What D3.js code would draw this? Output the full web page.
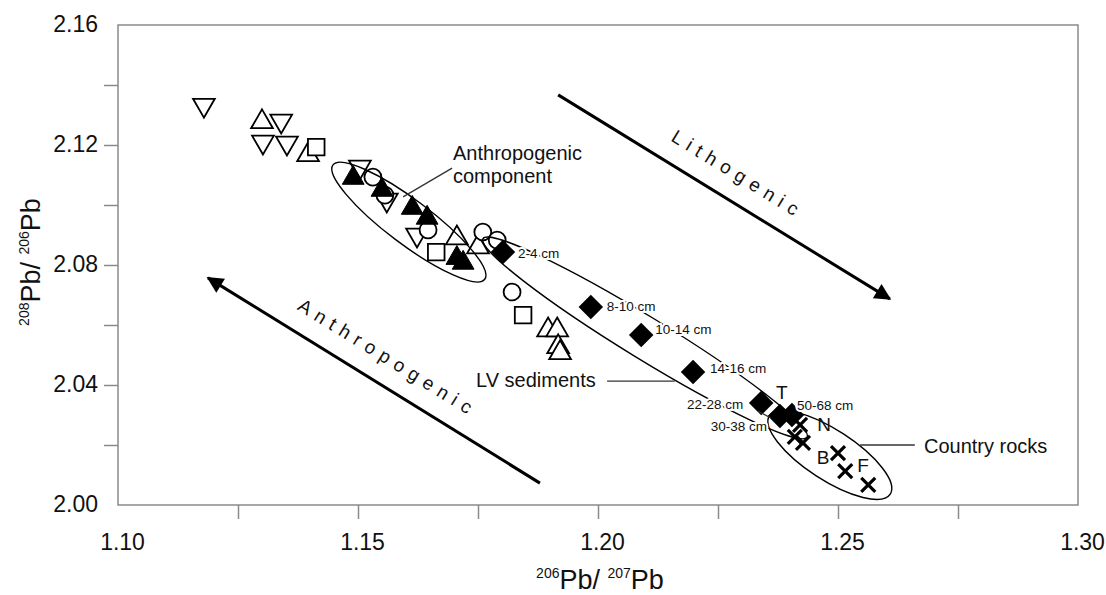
<!DOCTYPE html>
<html><head><meta charset="utf-8">
<script src="https://cdn.jsdelivr.net/npm/d3@7/dist/d3.min.js"></script>
<style>body{margin:0;background:#fff}svg{display:block}</style>
</head><body>
<svg id="c" width="1106" height="595"></svg>
<script>
// ---- axis tick values ----
const xLabelTicks = [1.10, 1.15, 1.20, 1.25, 1.30];
const xMarkTicks = [1.125, 1.15, 1.175, 1.20, 1.225, 1.25, 1.275];
const yLabelTicks = [2.00, 2.04, 2.08, 2.12, 2.16];
const yMarkTicks = [2.02, 2.04, 2.06, 2.08, 2.10, 2.12, 2.14];

// ---- data series [206Pb/207Pb, 208Pb/206Pb] ----
const openDownTriangles = [[1.1179,2.1333],[1.1340,2.1280],[1.1302,2.1210],[1.1352,2.1207],[1.1504,2.1127],[1.1560,2.1017],[1.1623,2.0900]];
const openUpTriangles = [[1.1300,2.1277],[1.1396,2.1167],[1.1706,2.0890],[1.1750,2.0860],[1.1896,2.0583],[1.1915,2.0583],[1.1917,2.0527],[1.1921,2.0507]];
const openSquares = [[1.1413,2.1193],[1.1663,2.0843],[1.1844,2.0633]];
const openCircles = [[1.1531,2.1093],[1.1556,2.1033],[1.1646,2.0917],[1.1760,2.0910],[1.1790,2.0883],[1.1821,2.0710]];
const filledTriangles = [[1.1490,2.1090],[1.1550,2.1050],[1.1613,2.0990],[1.1644,2.0957],[1.1706,2.0823],[1.1719,2.0807]];
const lvDepths = ["2-4 cm","8-10 cm","10-14 cm","14-16 cm","22-28 cm","30-38 cm","50-68 cm"];
const lvSediments = [[1.1802,2.0843],[1.1985,2.0660],[1.2090,2.0567],[1.2198,2.0443],[1.2340,2.0340],[1.2379,2.0297],[1.2404,2.0300]];
const countryRocks = [[1.2421,2.0267],[1.2410,2.0227],[1.2427,2.0207],[1.2500,2.0173],[1.2515,2.0113],[1.2563,2.0067]];
const rockLabels = ["T","N","B","F"];
const rockLabelPos = [[1.2383,2.0377],[1.2471,2.0270],[1.2469,2.0160],[1.2552,2.0133]];

// ---- annotation config ----
const depthLabelOffsets = [[15,6],[16,4],[14,-1],[17,1],[-18,6],[-13,15],[5,-5]]; // px
const depthLabelAnchor = ["start","start","start","start","end","end","start"];
const ellipses = [
  {c:[1.1606,2.0943], a:95, b:22, angle:37},
  {c:[1.2098,2.0557], a:190, b:21, angle:31.5},
  {c:[1.2483,2.0167], a:72, b:25, angle:33}
];
const arrows = [
  {from:[1.1917,2.1367], to:[1.2608,2.0687], label:"Lithogenic"},
  {from:[1.1879,2.0073], to:[1.11875,2.0757], label:"Anthropogenic"}
];

const FONT = "'Liberation Sans', Arial, Helvetica, sans-serif";
const svg = d3.select("#c");
const x = d3.scaleLinear().domain([1.10,1.30]).range([118,1078]);
const y = d3.scaleLinear().domain([2.00,2.16]).range([505,25]);

// frame
svg.append("rect").attr("x",x(1.10)).attr("y",y(2.16))
  .attr("width",x(1.30)-x(1.10)).attr("height",y(2.00)-y(2.16))
  .attr("fill","none").attr("stroke","#8a8a8a").attr("stroke-width",1.5);

// x axis ticks
const gx = svg.append("g").attr("transform",`translate(0,${y(2.00)})`)
  .call(d3.axisBottom(x).tickValues(xMarkTicks).tickSize(14).tickFormat(""));
gx.select(".domain").remove();
gx.selectAll("line").attr("stroke","#8a8a8a").attr("stroke-width",1.5);
const gxl = svg.append("g").attr("transform",`translate(4,${y(2.00)})`)
  .call(d3.axisBottom(x).tickValues(xLabelTicks).tickSize(0).tickPadding(29).tickFormat(d3.format(".2f")));
gxl.select(".domain").remove();
gxl.selectAll("text").attr("font-family",FONT).attr("font-size",23).attr("fill","#111");

// y axis ticks
const gy = svg.append("g").attr("transform",`translate(${x(1.10)},0)`)
  .call(d3.axisLeft(y).tickValues(yMarkTicks).tickSize(14).tickFormat(""));
gy.select(".domain").remove();
gy.selectAll("line").attr("stroke","#8a8a8a").attr("stroke-width",1.5);
const gyl = svg.append("g").attr("transform",`translate(${x(1.10)},-1)`)
  .call(d3.axisLeft(y).tickValues(yLabelTicks).tickSize(0).tickPadding(20).tickFormat(d3.format(".2f")));
gyl.select(".domain").remove();
gyl.selectAll("text").attr("font-family",FONT).attr("font-size",23).attr("fill","#111");

// axis titles
function isoTitle(g, a, b){
  const t = g.append("text").attr("font-family",FONT).attr("fill","#111").attr("text-anchor","middle");
  t.append("tspan").attr("font-size",14).attr("dy",-11).text(a);
  t.append("tspan").attr("font-size",27).attr("dy",11).text("Pb/ ");
  t.append("tspan").attr("font-size",14).attr("dy",-11).text(b);
  t.append("tspan").attr("font-size",27).attr("dy",11).text("Pb");
  return t;
}
isoTitle(svg,"206","207").attr("transform","translate(600,589)");
isoTitle(svg,"208","206").attr("transform","translate(40,262) rotate(-90)");

// markers
const marks = svg.append("g");
const tri = d3.symbol().type(d3.symbolTriangle).size(205);
const circ = d3.symbol().type(d3.symbolCircle).size(225);
const sq = d3.symbol().type(d3.symbolSquare).size(275);
const dia = d3.symbol().type(d3.symbolSquare).size(300);

marks.selectAll(".dt").data(openDownTriangles).join("path")
  .attr("d",tri).attr("transform",d=>`translate(${x(d[0])},${y(d[1])}) rotate(180)`)
  .attr("fill","#fff").attr("stroke","#000").attr("stroke-width",1.8);
marks.selectAll(".ut").data(openUpTriangles).join("path")
  .attr("d",tri).attr("transform",d=>`translate(${x(d[0])},${y(d[1])})`)
  .attr("fill","#fff").attr("stroke","#000").attr("stroke-width",1.8);
marks.selectAll(".sq").data(openSquares).join("path")
  .attr("d",sq).attr("transform",d=>`translate(${x(d[0])},${y(d[1])})`)
  .attr("fill","#fff").attr("stroke","#000").attr("stroke-width",1.8);
marks.selectAll(".ci").data(openCircles).join("path")
  .attr("d",circ).attr("transform",d=>`translate(${x(d[0])},${y(d[1])})`)
  .attr("fill","#fff").attr("stroke","#000").attr("stroke-width",1.8);
marks.selectAll(".ft").data(filledTriangles).join("path")
  .attr("d",tri).attr("transform",d=>`translate(${x(d[0])},${y(d[1])})`)
  .attr("fill","#000").attr("stroke","#000").attr("stroke-width",1);
marks.selectAll(".di").data(lvSediments).join("path")
  .attr("d",dia).attr("transform",d=>`translate(${x(d[0])},${y(d[1])}) rotate(45)`)
  .attr("fill","#000");
marks.selectAll(".cr").data(countryRocks).join("path")
  .attr("d","M-7,-7L7,7M-7,7L7,-7").attr("transform",d=>`translate(${x(d[0])},${y(d[1])})`)
  .attr("fill","none").attr("stroke","#000").attr("stroke-width",3.2);

// ellipses
svg.append("g").selectAll("ellipse").data(ellipses).join("ellipse")
  .attr("cx",0).attr("cy",0).attr("rx",d=>d.a).attr("ry",d=>d.b)
  .attr("transform",d=>`translate(${x(d.c[0])},${y(d.c[1])}) rotate(${d.angle})`)
  .attr("fill","none").attr("stroke","#000").attr("stroke-width",1.4);

// leader lines
const leaders = [
  [[1.1696,2.1123],[1.1594,2.1027]],
  [[1.2019,2.0413],[1.2160,2.0413]],
  [[1.2546,2.0200],[1.2660,2.0200]],
  [[1.2333,2.0313],[1.2360,2.0290]]
];
svg.append("g").selectAll("line").data(leaders).join("line")
  .attr("x1",d=>x(d[0][0])).attr("y1",d=>y(d[0][1]))
  .attr("x2",d=>x(d[1][0])).attr("y2",d=>y(d[1][1]))
  .attr("stroke","#333").attr("stroke-width",1.3);

// depth labels with halo
svg.append("g").selectAll("text").data(lvDepths).join("text")
  .attr("x",(d,i)=>x(lvSediments[i][0])+depthLabelOffsets[i][0])
  .attr("y",(d,i)=>y(lvSediments[i][1])+depthLabelOffsets[i][1])
  .attr("text-anchor",(d,i)=>depthLabelAnchor[i])
  .attr("font-family",FONT).attr("font-size",13.5).attr("fill","#111")
  .attr("stroke","#fff").attr("stroke-width",4).attr("paint-order","stroke")
  .text(d=>d);

// rock labels
svg.append("g").selectAll("text").data(rockLabels).join("text")
  .attr("x",(d,i)=>x(rockLabelPos[i][0])).attr("y",(d,i)=>y(rockLabelPos[i][1]))
  .attr("dy","0.36em").attr("text-anchor","middle")
  .attr("font-family",FONT).attr("font-size",19).attr("fill","#111").text(d=>d);

// text annotations
const ann = svg.append("g").attr("font-family",FONT).attr("fill","#111").attr("font-size",20);
const ac = ann.append("text").attr("x",453).attr("y",160);
ac.append("tspan").attr("x",453).text("Anthropogenic");
ac.append("tspan").attr("x",453).attr("dy",23).text("component");
ann.append("text").attr("x",476).attr("y",387).text("LV sediments");
ann.append("text").attr("x",924).attr("y",453).text("Country rocks");

// arrows
const defs = svg.append("defs");
defs.append("marker").attr("id","ah").attr("viewBox","0 0 10 10").attr("refX",9).attr("refY",5)
  .attr("markerWidth",6.5).attr("markerHeight",5.5).attr("markerUnits","strokeWidth").attr("orient","auto")
  .append("path").attr("d","M0,0L10,5L0,10Z").attr("fill","#000");
arrows.forEach(a=>{
  const x1=x(a.from[0]), y1=y(a.from[1]), x2=x(a.to[0]), y2=y(a.to[1]);
  svg.append("line").attr("x1",x1).attr("y1",y1).attr("x2",x2).attr("y2",y2)
    .attr("stroke","#000").attr("stroke-width",3).attr("marker-end","url(#ah)");
  const lx=Math.min(x1,x2), ly = (x1<x2)?y1:y2, rx=Math.max(x1,x2), ry=(x1<x2)?y2:y1;
  const ang = Math.atan2(ry-ly, rx-lx);
  const mx=(x1+x2)/2, my=(y1+y2)/2;
  const nx = Math.sin(ang), ny = -Math.cos(ang);
  const off = 20;
  svg.append("text").attr("transform",`translate(${mx+nx*off},${my+ny*off}) rotate(${ang*180/Math.PI})`)
    .attr("text-anchor","middle").attr("font-family",FONT).attr("font-size",19)
    .attr("letter-spacing",6.5).attr("fill","#111").text(a.label);
});
</script>
</body></html>
